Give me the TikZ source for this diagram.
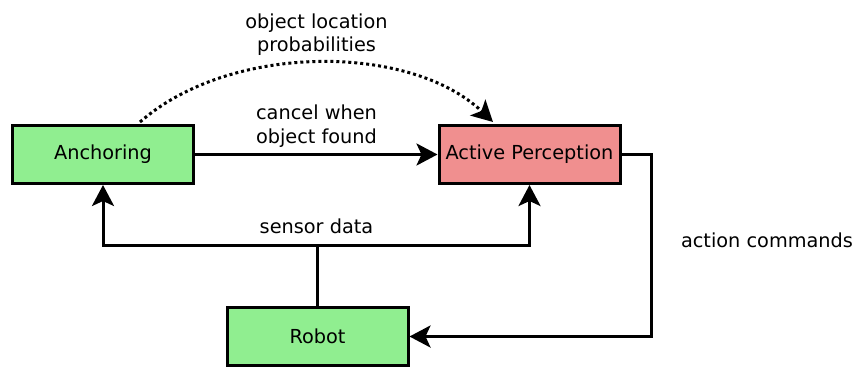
\documentclass[tikz,border=0pt]{standalone}
\usepackage{fontspec}
\setmainfont{DejaVu Sans}
\usetikzlibrary{arrows.meta}
\definecolor{boxgreen}{HTML}{90EE90}
\definecolor{boxred}{HTML}{F08F8F}
\tikzset{
  txt/.style={font=\fontsize{19.3}{23.5}\selectfont},
  block/.style={draw=black, line width=3pt, minimum width=181pt, minimum height=58pt, inner sep=0pt, txt},
  tip/.style={-{Stealth[length=21pt, width=22pt, inset=5pt]}},
  flow/.style={line width=3pt, tip},
  lbl/.style={txt, align=center, inner sep=0pt},
}
\begin{document}
\begin{tikzpicture}[x=1pt, y=-1pt]
  \useasboundingbox (0,0) rectangle (856,367);
  \node[block, fill=boxgreen] (anch) at (103,154.5) {Anchoring};
  \node[block, fill=boxred] (ap) at (529.5,154.5) {Active Perception};
  \node[block, fill=boxgreen] (robot) at (317.5,336.5) {Robot};

  \coordinate (split) at (robot.north |- 0,245.5);
  \coordinate (turn1) at (651.5,0 |- ap.east);
  \coordinate (turn2) at (651.5,0 |- robot.east);

  % anchoring to active perception
  \draw[flow] (anch.east) -- (ap.west);
  % sensor data branches
  \draw[line width=3pt] (robot.north) -- (split);
  \draw[flow] (split) -| (anch.south);
  \draw[flow] (split) -| (ap.south);
  % action commands
  \draw[flow] (ap.east) -- (turn1) -- (turn2) -- (robot.east);
  % object location probabilities
  \draw[line width=3pt, dash pattern=on 3pt off 3pt, tip]
    (140,122) .. controls (230,43) and (410,43) .. (493,122);

  \node[lbl] (l1) at (316.5,34.5) {object location\\probabilities};
  \node[lbl] (l2) at (316.5,126) {cancel when\\object found};
  \node[lbl] (l3) at (316.5,226) {sensor data};
  \node[lbl] (l4) at (767,240) {action commands};
\end{tikzpicture}
\end{document}
